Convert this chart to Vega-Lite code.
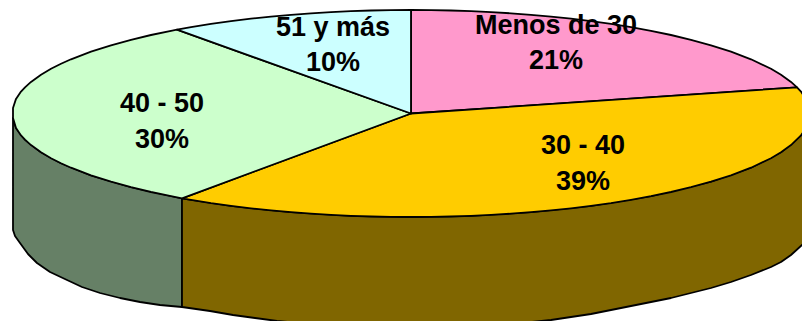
{"$schema":"https://vega.github.io/schema/vega-lite/v6.json","width":802,"height":321,"padding":0,"autosize":"none","background":"white","view":{"stroke":null},
"datasets":{"shapes":[
{"s":"w1","o":1,"x":13,"y":118},{"s":"w1","o":2,"x":16,"y":128},{"s":"w1","o":3,"x":25,"y":139.7},{"s":"w1","o":4,"x":41,"y":152.2},{"s":"w1","o":5,"x":61,"y":163.2},{"s":"w1","o":6,"x":91,"y":175.3},{"s":"w1","o":7,"x":131,"y":187.2},{"s":"w1","o":8,"x":182,"y":198.3},{"s":"w1","o":9,"x":182,"y":307},{"s":"w1","o":10,"x":160,"y":305},{"s":"w1","o":11,"x":140,"y":302},{"s":"w1","o":12,"x":120,"y":298},{"s":"w1","o":13,"x":100,"y":293},{"s":"w1","o":14,"x":82,"y":287},{"s":"w1","o":15,"x":67,"y":280},{"s":"w1","o":16,"x":50,"y":272},{"s":"w1","o":17,"x":37,"y":263},{"s":"w1","o":18,"x":28,"y":254},{"s":"w1","o":19,"x":20,"y":243},{"s":"w1","o":20,"x":15,"y":236},{"s":"w1","o":21,"x":13,"y":230},
{"s":"w2","o":1,"x":182,"y":198.3},{"s":"w2","o":2,"x":231,"y":205.9},{"s":"w2","o":3,"x":291,"y":212.2},{"s":"w2","o":4,"x":351,"y":215.8},{"s":"w2","o":5,"x":411,"y":217},{"s":"w2","o":6,"x":471,"y":215.8},{"s":"w2","o":7,"x":531,"y":212.2},{"s":"w2","o":8,"x":591,"y":205.9},{"s":"w2","o":9,"x":651,"y":196.2},{"s":"w2","o":10,"x":711,"y":181.7},{"s":"w2","o":11,"x":751,"y":167.7},{"s":"w2","o":12,"x":781,"y":152.2},{"s":"w2","o":13,"x":801,"y":135.4},{"s":"w2","o":14,"x":815,"y":120},{"s":"w2","o":15,"x":815,"y":235},{"s":"w2","o":16,"x":802,"y":245},{"s":"w2","o":17,"x":791,"y":255},{"s":"w2","o":18,"x":781,"y":262},{"s":"w2","o":19,"x":771,"y":267},{"s":"w2","o":20,"x":751,"y":275},{"s":"w2","o":21,"x":731,"y":282},{"s":"w2","o":22,"x":711,"y":288},{"s":"w2","o":23,"x":691,"y":293},{"s":"w2","o":24,"x":671,"y":298},{"s":"w2","o":25,"x":651,"y":302},{"s":"w2","o":26,"x":631,"y":306},{"s":"w2","o":27,"x":611,"y":310},{"s":"w2","o":28,"x":591,"y":314},{"s":"w2","o":29,"x":571,"y":317},{"s":"w2","o":30,"x":551,"y":320},{"s":"w2","o":31,"x":531,"y":322},{"s":"w2","o":32,"x":500,"y":324},{"s":"w2","o":33,"x":411,"y":326},{"s":"w2","o":34,"x":350,"y":325},{"s":"w2","o":35,"x":300,"y":323},{"s":"w2","o":36,"x":277,"y":321},{"s":"w2","o":37,"x":255,"y":318},{"s":"w2","o":38,"x":233,"y":315},{"s":"w2","o":39,"x":210,"y":311},{"s":"w2","o":40,"x":182,"y":307},
{"s":"Menos de 30","o":1,"x":411,"y":113.5},{"s":"Menos de 30","o":2,"x":411,"y":10},{"s":"Menos de 30","o":3,"x":431,"y":10.1},{"s":"Menos de 30","o":4,"x":451,"y":10.5},{"s":"Menos de 30","o":5,"x":471,"y":11.2},{"s":"Menos de 30","o":6,"x":491,"y":12.1},{"s":"Menos de 30","o":7,"x":511,"y":13.3},{"s":"Menos de 30","o":8,"x":531,"y":14.8},{"s":"Menos de 30","o":9,"x":551,"y":16.6},{"s":"Menos de 30","o":10,"x":571,"y":18.7},{"s":"Menos de 30","o":11,"x":591,"y":21.1},{"s":"Menos de 30","o":12,"x":611,"y":23.9},{"s":"Menos de 30","o":13,"x":631,"y":27.2},{"s":"Menos de 30","o":14,"x":651,"y":30.8},{"s":"Menos de 30","o":15,"x":671,"y":35},{"s":"Menos de 30","o":16,"x":691,"y":39.8},{"s":"Menos de 30","o":17,"x":711,"y":45.3},{"s":"Menos de 30","o":18,"x":731,"y":51.7},{"s":"Menos de 30","o":19,"x":751,"y":59.3},{"s":"Menos de 30","o":20,"x":771,"y":68.8},{"s":"Menos de 30","o":21,"x":781,"y":74.8},{"s":"Menos de 30","o":22,"x":791,"y":81.9},{"s":"Menos de 30","o":23,"x":797,"y":87.3},
{"s":"30 - 40","o":1,"x":411,"y":113.5},{"s":"30 - 40","o":2,"x":797,"y":87.3},{"s":"30 - 40","o":3,"x":801,"y":91.6},{"s":"30 - 40","o":4,"x":806,"y":98.9},{"s":"30 - 40","o":5,"x":810,"y":113.5},{"s":"30 - 40","o":6,"x":806,"y":128.1},{"s":"30 - 40","o":7,"x":801,"y":135.4},{"s":"30 - 40","o":8,"x":791,"y":145.1},{"s":"30 - 40","o":9,"x":781,"y":152.2},{"s":"30 - 40","o":10,"x":771,"y":158.2},{"s":"30 - 40","o":11,"x":751,"y":167.7},{"s":"30 - 40","o":12,"x":731,"y":175.3},{"s":"30 - 40","o":13,"x":711,"y":181.7},{"s":"30 - 40","o":14,"x":691,"y":187.2},{"s":"30 - 40","o":15,"x":671,"y":192},{"s":"30 - 40","o":16,"x":651,"y":196.2},{"s":"30 - 40","o":17,"x":631,"y":199.8},{"s":"30 - 40","o":18,"x":611,"y":203.1},{"s":"30 - 40","o":19,"x":591,"y":205.9},{"s":"30 - 40","o":20,"x":571,"y":208.3},{"s":"30 - 40","o":21,"x":551,"y":210.4},{"s":"30 - 40","o":22,"x":531,"y":212.2},{"s":"30 - 40","o":23,"x":511,"y":213.7},{"s":"30 - 40","o":24,"x":491,"y":214.9},{"s":"30 - 40","o":25,"x":471,"y":215.8},{"s":"30 - 40","o":26,"x":451,"y":216.5},{"s":"30 - 40","o":27,"x":431,"y":216.9},{"s":"30 - 40","o":28,"x":411,"y":217},{"s":"30 - 40","o":29,"x":391,"y":216.9},{"s":"30 - 40","o":30,"x":371,"y":216.5},{"s":"30 - 40","o":31,"x":351,"y":215.8},{"s":"30 - 40","o":32,"x":331,"y":214.9},{"s":"30 - 40","o":33,"x":311,"y":213.7},{"s":"30 - 40","o":34,"x":291,"y":212.2},{"s":"30 - 40","o":35,"x":271,"y":210.4},{"s":"30 - 40","o":36,"x":251,"y":208.3},{"s":"30 - 40","o":37,"x":231,"y":205.9},{"s":"30 - 40","o":38,"x":211,"y":203.1},{"s":"30 - 40","o":39,"x":191,"y":199.8},{"s":"30 - 40","o":40,"x":182,"y":198.3},
{"s":"40 - 50","o":1,"x":411,"y":113.5},{"s":"40 - 50","o":2,"x":182,"y":198.3},{"s":"40 - 50","o":3,"x":171,"y":196.2},{"s":"40 - 50","o":4,"x":151,"y":192},{"s":"40 - 50","o":5,"x":131,"y":187.2},{"s":"40 - 50","o":6,"x":111,"y":181.7},{"s":"40 - 50","o":7,"x":91,"y":175.3},{"s":"40 - 50","o":8,"x":71,"y":167.7},{"s":"40 - 50","o":9,"x":61,"y":163.2},{"s":"40 - 50","o":10,"x":51,"y":158.2},{"s":"40 - 50","o":11,"x":41,"y":152.2},{"s":"40 - 50","o":12,"x":31,"y":145.1},{"s":"40 - 50","o":13,"x":25,"y":139.7},{"s":"40 - 50","o":14,"x":21,"y":135.4},{"s":"40 - 50","o":15,"x":16,"y":128.1},{"s":"40 - 50","o":16,"x":13,"y":118},{"s":"40 - 50","o":17,"x":13,"y":108},{"s":"40 - 50","o":18,"x":16,"y":98.9},{"s":"40 - 50","o":19,"x":21,"y":91.6},{"s":"40 - 50","o":20,"x":25,"y":87.3},{"s":"40 - 50","o":21,"x":31,"y":81.9},{"s":"40 - 50","o":22,"x":41,"y":74.8},{"s":"40 - 50","o":23,"x":51,"y":68.8},{"s":"40 - 50","o":24,"x":61,"y":63.8},{"s":"40 - 50","o":25,"x":71,"y":59.3},{"s":"40 - 50","o":26,"x":91,"y":51.7},{"s":"40 - 50","o":27,"x":111,"y":45.3},{"s":"40 - 50","o":28,"x":131,"y":39.8},{"s":"40 - 50","o":29,"x":151,"y":35},{"s":"40 - 50","o":30,"x":171,"y":30.8},{"s":"40 - 50","o":31,"x":177,"y":29.7},
{"s":"51 y más","o":1,"x":411,"y":113.5},{"s":"51 y más","o":2,"x":177,"y":29.7},{"s":"51 y más","o":3,"x":191,"y":27.2},{"s":"51 y más","o":4,"x":211,"y":23.9},{"s":"51 y más","o":5,"x":231,"y":21.1},{"s":"51 y más","o":6,"x":251,"y":18.7},{"s":"51 y más","o":7,"x":271,"y":16.6},{"s":"51 y más","o":8,"x":291,"y":14.8},{"s":"51 y más","o":9,"x":311,"y":13.3},{"s":"51 y más","o":10,"x":331,"y":12.1},{"s":"51 y más","o":11,"x":351,"y":11.2},{"s":"51 y más","o":12,"x":371,"y":10.5},{"s":"51 y más","o":13,"x":391,"y":10.1},{"s":"51 y más","o":14,"x":411,"y":10}
],"labels":[
{"t":"Menos de 30","x":556,"y":26},{"t":"21%","x":556,"y":61},
{"t":"30 - 40","x":583,"y":146},{"t":"39%","x":583,"y":182},
{"t":"40 - 50","x":162,"y":104},{"t":"30%","x":162,"y":140},
{"t":"51 y más","x":333,"y":28},{"t":"10%","x":333,"y":63}
]},
"layer":[
{"data":{"name":"shapes"},"mark":{"type":"line","stroke":"black","strokeWidth":1.8,"strokeJoin":"round","clip":true,"interpolate":"linear-closed"},
"encoding":{
"x":{"field":"x","type":"quantitative","scale":{"domain":[0,802]},"axis":null},
"y":{"field":"y","type":"quantitative","scale":{"domain":[0,321],"reverse":true},"axis":null},
"order":{"field":"o","type":"quantitative"},
"detail":{"field":"s"},
"fill":{"field":"s","type":"nominal","legend":null,"scale":{"domain":["w1","w2","Menos de 30","30 - 40","40 - 50","51 y más"],"range":["#668066","#806600","#FF99CC","#FFCC00","#CCFFCC","#CCFFFF"]}}}},
{"data":{"name":"labels"},"mark":{"type":"text","font":"Liberation Sans","fontWeight":"bold","fontSize":27,"color":"black","align":"center","baseline":"middle"},
"encoding":{"x":{"field":"x","type":"quantitative","scale":{"domain":[0,802]},"axis":null},"y":{"field":"y","type":"quantitative","scale":{"domain":[0,321],"reverse":true},"axis":null},"text":{"field":"t"}}}
]}
